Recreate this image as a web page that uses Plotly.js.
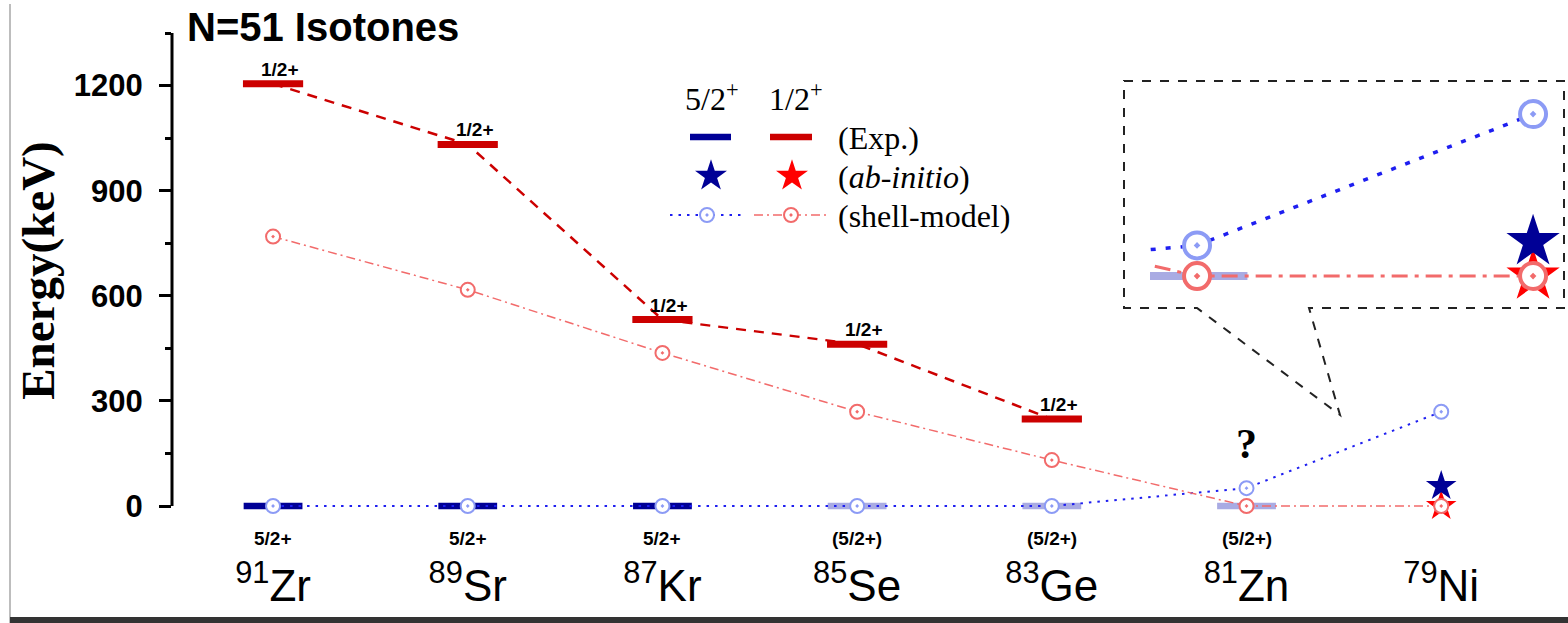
<!DOCTYPE html>
<html>
<head>
<meta charset="utf-8">
<script src="https://cdn.plot.ly/plotly-3.0.1.min.js"></script>
<style>html,body{margin:0;padding:0;background:#fff;}#chart{width:1568px;height:623px;}</style>
</head>
<body>
<div id="chart"></div>
<script>
// ---------------- data ----------------
const isotopes   = ['91Zr','89Sr','87Kr','85Se','83Ge','81Zn','79Ni'];
const isoLabels  = ['<sup>91</sup>Zr','<sup>89</sup>Sr','<sup>87</sup>Kr','<sup>85</sup>Se','<sup>83</sup>Ge','<sup>81</sup>Zn','<sup>79</sup>Ni'];
const exp12      = [1205, 1032, 532, 462, 248, null, null];   // Exp. 1/2+ (keV)
const exp52      = [0, 0, 0, 0, 0, 0, null];                  // Exp. 5/2+ (keV)
const exp52Tentative = [false, false, false, true, true, true, false];
const sm12       = [769, 617, 437, 269, 131, 0, 0];           // shell-model 1/2+
const sm52       = [0, 0, 0, 0, 0, 51, 269];                  // shell-model 5/2+
const ab12       = [null, null, null, null, null, null, 0];   // ab-initio 1/2+
const ab52       = [null, null, null, null, null, null, 57];  // ab-initio 5/2+
const label12    = ['1/2+', '1/2+', '1/2+', '1/2+', '1/2+', '', ''];
const label52    = ['5/2+', '5/2+', '5/2+', '(5/2+)', '(5/2+)', '(5/2+)', ''];
const questionAt = '81Zn';

// ---------------- styles ----------------
const NAVY = '#000096', LAV = '#A9ABE3', RED = '#CC0000', STARRED = '#FF0000';
const SMRED = '#F26B6B', SMBLUE_M = '#8C9BF5', SMBLUE_L = '#1E1EF0';
const SANS = 'Liberation Sans, Arial, sans-serif';
const SERIF = 'Liberation Serif, Times New Roman, serif';

// pixel -> paper helpers (plot area: x 172..1566, y 33..508)
const L = 172, R = 1566, T = 33, B = 508;
const px = X => (X - L) / (R - L);
const py = Y => (B - Y) / (B - T);
const Y0 = 506; // pixel row of 0 keV

function mainTraces(ax, ay, big) {
  const clip = !!big;
  return [
    {x: isotopes, y: exp12, mode: 'lines', xaxis: ax, yaxis: ay, cliponaxis: clip,
     line: {color: RED, width: 2.5, dash: '10px,8px'}, hoverinfo: 'skip', showlegend: false},
    {x: isotopes, y: exp12, mode: 'markers', xaxis: ax, yaxis: ay, cliponaxis: clip,
     marker: {symbol: 'line-ew', size: 43, line: {color: RED, width: 7}}, showlegend: false},
    {x: isotopes, y: exp52, mode: 'markers', xaxis: ax, yaxis: ay, cliponaxis: clip,
     marker: {symbol: 'line-ew', size: big ? 72 : 42, line: {color: exp52Tentative.map(t => t ? LAV : NAVY), width: big ? 8 : 6.5}}, showlegend: false},
    {x: isotopes, y: ab12, mode: 'markers', xaxis: ax, yaxis: ay, cliponaxis: clip,
     marker: {symbol: 'star', size: big ? 40 : 23, color: STARRED}, showlegend: false},
    {x: isotopes, y: ab52, mode: 'markers', xaxis: ax, yaxis: ay, cliponaxis: clip,
     marker: {symbol: 'star', size: big ? 40 : 23, color: NAVY}, showlegend: false},
    {x: isotopes, y: sm52, mode: 'lines+markers', xaxis: ax, yaxis: ay, cliponaxis: clip,
     line: {color: SMBLUE_L, width: big ? 3.5 : 2, dash: big ? '5px,10px' : '2.5px,6px'},
     marker: {symbol: 'circle-dot', size: big ? 26 : 14, color: 'white', line: {color: SMBLUE_M, width: big ? 4 : 2}}, showlegend: false},
    {x: isotopes, y: sm12, mode: 'lines+markers', xaxis: ax, yaxis: ay, cliponaxis: clip,
     line: {color: SMRED, width: big ? 3 : 1.5, dash: big ? '16px,7px,4px,7px' : '9px,4px,2px,4px'},
     marker: {symbol: 'circle-dot', size: big ? 26 : 14, color: 'white', line: {color: SMRED, width: big ? 4 : 2}}, showlegend: false}
  ];
}

const traces = mainTraces('x', 'y', false).concat(mainTraces('x3', 'y3', true));

// legend samples (on a pixel-coordinate overlay axis)
const leg = [
  {x: [690, 731], y: [137, 137], mode: 'lines', line: {color: NAVY, width: 6.5}},
  {x: [770, 812], y: [137, 137], mode: 'lines', line: {color: RED, width: 6.5}},
  {x: [711], y: [176], mode: 'markers', marker: {symbol: 'star', size: 24, color: NAVY}},
  {x: [792], y: [176], mode: 'markers', marker: {symbol: 'star', size: 24, color: STARRED}},
  {x: [670, 742], y: [215, 215], mode: 'lines', line: {color: SMBLUE_L, width: 2, dash: '2.5px,6px'}},
  {x: [707], y: [215], mode: 'markers', marker: {symbol: 'circle-dot', size: 14, color: 'white', line: {color: SMBLUE_M, width: 2}}},
  {x: [754, 828], y: [215, 215], mode: 'lines', line: {color: SMRED, width: 1.5, dash: '9px,4px,2px,4px'}},
  {x: [791], y: [215], mode: 'markers', marker: {symbol: 'circle-dot', size: 14, color: 'white', line: {color: SMRED, width: 2}}}
].map(t => Object.assign(t, {xaxis: 'x4', yaxis: 'y4', cliponaxis: false, showlegend: false, hoverinfo: 'skip'}));

const annotations = [];
isotopes.forEach((iso, i) => {
  if (label12[i]) annotations.push({x: iso, y: exp12[i], xref: 'x', yref: 'y', text: label12[i], showarrow: false,
    yanchor: 'bottom', xshift: 7, yshift: 2, font: {family: SANS, size: 19, weight: 'bold', color: '#000'}});
  if (label52[i]) annotations.push({x: iso, y: exp52[i], xref: 'x', yref: 'y', text: label52[i], showarrow: false,
    yanchor: 'middle', yshift: -32, font: {family: SANS, size: 19, weight: 'bold', color: '#000'}});
});
annotations.push({x: questionAt, y: sm52[isotopes.indexOf(questionAt)], xref: 'x', yref: 'y', text: '?', showarrow: false,
  yanchor: 'middle', yshift: 44, font: {family: SERIF, size: 42, weight: 'bold', color: '#000'}});
// legend texts
const legText = (x, y, t, anchor) => ({x: x, y: y, xref: 'x4', yref: 'y4', text: t, showarrow: false, xanchor: anchor, yanchor: 'middle',
  font: {family: SERIF, size: 32, color: '#000'}});
annotations.push(legText(712, 97, '5/2<sup>+</sup>', 'center'));
annotations.push(legText(796, 97, '1/2<sup>+</sup>', 'center'));
annotations.push(legText(836, 138, '(Exp.)', 'left'));
annotations.push(legText(836, 177, '(<i>ab-initio</i>)', 'left'));
annotations.push(legText(836, 216, '(shell-model)', 'left'));
// title
annotations.push({x: px(185), y: py(27), xref: 'paper', yref: 'paper', text: 'N=51 Isotones', showarrow: false,
  xanchor: 'left', yanchor: 'middle', font: {family: SANS, size: 40, weight: 'bold', color: '#000'}});

const shapes = [
  // y axis line from 0 to the top
  {type: 'line', xref: 'paper', yref: 'y', x0: 0, x1: 0, y0: 0, y1: 1350, line: {color: '#000', width: 3}},
  // inset callout box
  {type: 'path', xref: 'paper', yref: 'paper', layer: 'below',
   path: `M${px(1124)},${py(81)} L${px(1564)},${py(81)} L${px(1564)},${py(308)} L${px(1309)},${py(308)} L${px(1340)},${py(415)} L${px(1197)},${py(308)} L${px(1124)},${py(308)} Z`,
   line: {color: '#222', width: 2, dash: 'dash'}, fillcolor: 'rgba(255,255,255,0)'},
  // frame
  {type: 'line', xref: 'paper', yref: 'paper', x0: px(10), x1: px(10), y0: py(4), y1: py(623), line: {color: '#bdbdbd', width: 2}},
  {type: 'line', xref: 'paper', yref: 'paper', x0: px(10), x1: px(1568), y0: py(620), y1: py(620), line: {color: '#333', width: 6}}
];

const layout = {
  width: 1568, height: 623,
  margin: {l: L, r: 1568 - R, t: T, b: 623 - B, pad: 0},
  paper_bgcolor: '#fff', plot_bgcolor: 'rgba(0,0,0,0)',
  font: {family: SANS, color: '#000'},
  showlegend: false,
  xaxis: {type: 'category', categoryorder: 'array', categoryarray: isotopes,
    domain: [0, px(1530)], range: [-0.519, 6.456],
    showline: false, showgrid: false, zeroline: false, ticks: '',
    tickmode: 'array', tickvals: isotopes, ticktext: isoLabels,
    tickfont: {family: SANS, size: 44, color: '#000'}, ticklabelstandoff: 48, fixedrange: true},
  yaxis: {range: [-(B - Y0) * 1350 / (Y0 - T), 1350], domain: [0, 1], showline: false,
    ticks: 'outside', ticklen: 12, tickwidth: 3, tickcolor: '#000', dtick: 300, tick0: 0,
    minor: {dtick: 150, ticks: 'outside', ticklen: 6, tickwidth: 3, tickcolor: '#000'},
    showgrid: false, zeroline: false, ticklabelstandoff: 10,
    tickfont: {family: SANS, size: 31, weight: 'bold', color: '#000'},
    title: {text: 'Energy(keV)', standoff: 4, font: {family: SERIF, size: 47, weight: 'bold', color: '#000'}}},
  xaxis3: {type: 'category', categoryorder: 'array', categoryarray: isotopes, anchor: 'y3',
    domain: [px(1150), 1], range: [4.860, 6.098], visible: false, fixedrange: true},
  yaxis3: {anchor: 'x3', domain: [py(308), py(81)], range: [-53, 324], visible: false, fixedrange: true},
  xaxis4: {overlaying: 'x', anchor: 'y4', range: [L, 1530], visible: false, fixedrange: true},
  yaxis4: {overlaying: 'y', anchor: 'x4', range: [B, T], visible: false, fixedrange: true},
  annotations: annotations,
  shapes: shapes
};

Plotly.newPlot('chart', traces.concat(leg), layout, {displayModeBar: false, staticPlot: true});
</script>
</body>
</html>
